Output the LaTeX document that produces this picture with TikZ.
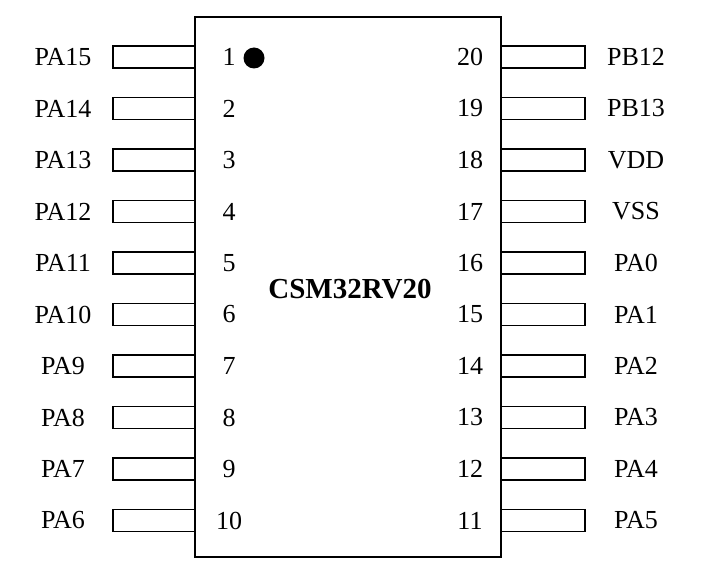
\documentclass[tikz,border=0pt]{standalone}
\usepackage{fontspec}
\setmainfont{Liberation Serif}
\usetikzlibrary{positioning,calc}

\begin{document}
\begin{tikzpicture}[x=1pt,y=-1pt,
  pinbox/.style={draw=black, line width=1.6pt, minimum width=82pt, minimum height=22pt, inner sep=0pt},
  lbl/.style={font=\fontsize{26}{30}\selectfont, inner sep=0pt}]
  \useasboundingbox (0,0) rectangle (703,572);
  \node (chip) [draw=black, line width=1.6pt, minimum width=306pt, minimum height=540pt, inner sep=0pt] at (348,287) {};
  \node (name) [lbl, font=\fontsize{29}{33}\selectfont\bfseries] at (350,289) {CSM32RV20};
  \node (dot) [circle, fill=black, minimum size=21pt, inner sep=0pt] at (254,58) {};

  \foreach \i/\l/\r in {1/PA15/PB12, 2/PA14/PB13, 3/PA13/VDD, 4/PA12/VSS, 5/PA11/PA0,
                        6/PA10/PA1, 7/PA9/PA2, 8/PA8/PA3, 9/PA7/PA4, 10/PA6/PA5} {
    \pgfmathsetmacro{\y}{57+(\i-1)*51.5}
    \pgfmathtruncatemacro{\j}{21-\i}
    \node (lp\i) [pinbox] at (154,\y) {};
    \node (rp\i) [pinbox, minimum width=84pt] at (543,\y) {};
    \node (ln\i) [lbl] at (63,\y) {\l};
    \node (rn\i) [lbl] at (636,\y) {\r};
    \node (li\i) [lbl] at (229,\y) {\i};
    \node (ri\i) [lbl] at (470,\y) {\j};
  }
\end{tikzpicture}
\end{document}
